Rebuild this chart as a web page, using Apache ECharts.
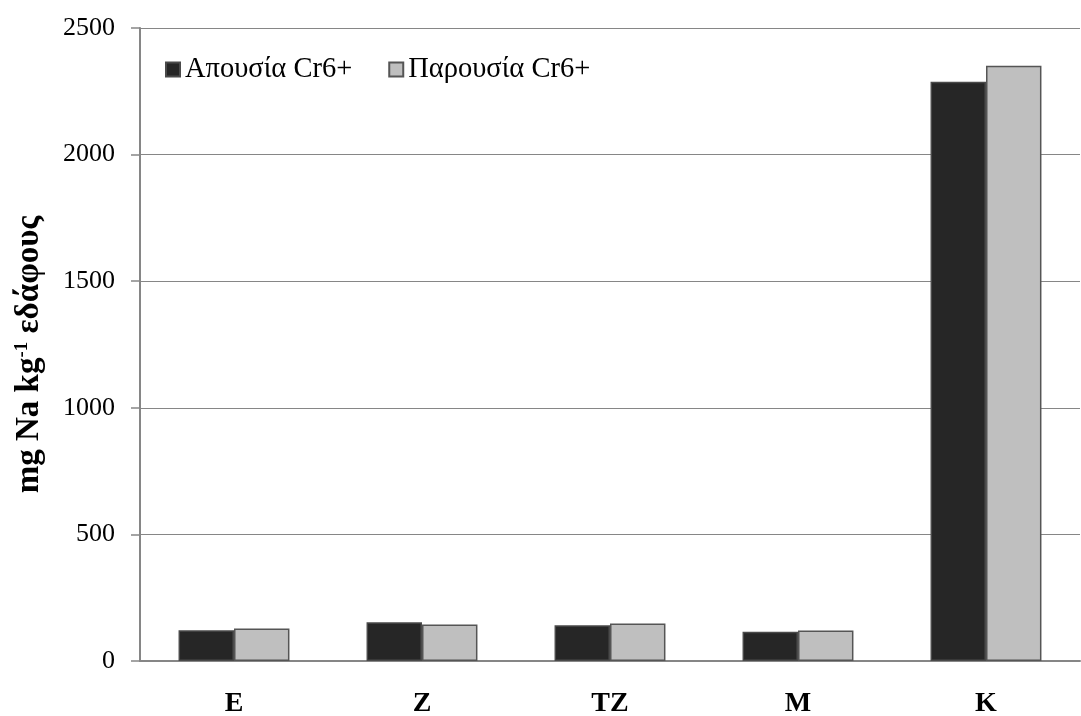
<!DOCTYPE html>
<html><head><meta charset="utf-8">
<script src="https://cdn.jsdelivr.net/npm/echarts@6/dist/echarts.min.js"></script>
<style>html,body{margin:0;padding:0;background:#fff}#c{width:1081px;height:716px}</style>
</head><body><div id="c"></div>
<script>
const categories = ['E', 'Z', 'TZ', 'M', 'K'];
const absent = [121, 153, 141, 116, 2288];
const present = [128, 144, 148, 120, 2351];
const seriesNames = ['Απουσία Cr6+', 'Παρουσία Cr6+'];
const yTicks = { min: 0, max: 2500, interval: 500 };
const yName = 'mg Na kg{sup|-1} εδάφους';

const font = '"Liberation Serif", "Times New Roman", serif';
const chart = echarts.init(document.getElementById('c'), null, { renderer: 'canvas' });
chart.setOption({
  animation: false,
  backgroundColor: '#fff',
  grid: { left: 140, right: 1, top: 28, bottom: 55, containLabel: false, outerBoundsMode: 'none' },
  legend: {
    left: 160, top: 50, itemWidth: 14, itemHeight: 14, itemGap: 36,
    icon: 'rect',
    textStyle: { fontFamily: font, fontSize: 28.5, color: '#000', padding: [0, 0, 0, 0] },
    data: seriesNames
  },
  xAxis: {
    type: 'category', data: categories,
    axisLine: { lineStyle: { color: '#868686', width: 2 } },
    axisTick: { show: false },
    axisLabel: { fontFamily: font, fontSize: 28, fontWeight: 'bold', color: '#000', margin: 29 }
  },
  yAxis: {
    type: 'value', min: yTicks.min, max: yTicks.max, interval: yTicks.interval,
    name: yName, nameLocation: 'middle', nameGap: 94, nameRotate: 90,
    nameTextStyle: {
      fontFamily: font, fontSize: 33, fontWeight: 'bold', color: '#000', padding: [0, 20, 0, 0],
      rich: { sup: { fontFamily: font, fontSize: 19, fontWeight: 'bold', color: '#000', verticalAlign: 'top', padding: [0, 0, 14, 0] } }
    },
    axisLine: { show: true, lineStyle: { color: '#868686', width: 2 } },
    axisTick: { show: true, length: 9, lineStyle: { color: '#868686', width: 1.5 } },
    axisLabel: { fontFamily: font, fontSize: 26, color: '#000', margin: 25, formatter: v => String(v) },
    splitLine: { lineStyle: { color: '#868686', width: 1.2 } }
  },
  series: [
    { name: seriesNames[0], type: 'bar', data: absent, barGap: '0%', barCategoryGap: '41%',
      itemStyle: { color: '#262626', borderColor: '#4a4a4a', borderWidth: 1.5 } },
    { name: seriesNames[1], type: 'bar', data: present,
      itemStyle: { color: '#bfbfbf', borderColor: '#555555', borderWidth: 1.5 } }
  ]
});
</script></body></html>
